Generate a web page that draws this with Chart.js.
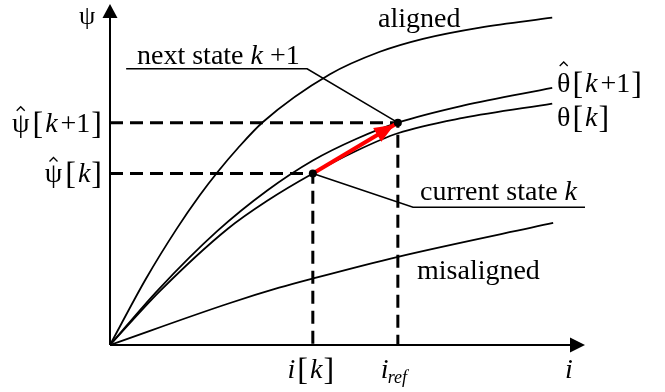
<!DOCTYPE html>
<html>
<head>
<meta charset="utf-8">
<script src="https://cdn.jsdelivr.net/npm/chart.js@4/dist/chart.umd.min.js"></script>
<style>
    html, body { margin: 0; padding: 0; background: #ffffff; }
    canvas { display: block; }
</style>
</head>
<body>
<canvas id="chart" width="665" height="392"></canvas>
<script>
(function (window, document) {
    'use strict';

    // curves, i and psi both on a 0..100 scale
    var alignedI = [0, 7.6, 14.1, 18.9, 22.7, 26.9, 32.2, 46.3, 56.8, 65.9, 77.9, 93.1];
    var alignedPsi = [0, 19.5, 34.2, 43.9, 50.8, 57.7, 65.4, 79.4, 86.0, 89.8, 93.1, 96.0];

    var thetaNextI = [0, 10.1, 22.5, 33.1, 42.7, 51.8, 60.6, 74.3, 93.1];
    var thetaNextPsi = [0, 16.1, 33.3, 45.3, 54.1, 60.4, 65.2, 70.2, 75.4];

    var thetaI = [0, 10.5, 24.8, 33.1, 42.7, 51.8, 60.6, 74.3, 93.1];
    var thetaPsi = [0, 15.8, 34.1, 42.3, 50.3, 56.9, 62.1, 66.6, 70.8];

    var misalignedI = [0, 24.8, 35.6, 42.7, 60.4, 93.3];
    var misalignedPsi = [0, 12.1, 16.8, 19.5, 25.8, 35.8];

    // current state k and next state k+1
    var stateI = [42.7, 60.6];
    var statePsi = [50.3, 65.2];

    // callout lines for the two state captions
    var nextCalloutI = [3.4, 41.5];
    var nextCalloutPsi = 81.0;
    var currentCalloutI = [63.8, 100];
    var currentCalloutPsi = 40.4;

    var axisMax = 100;
    var ARROW_INDEX = 1;

    var SERIF = "'Liberation Serif', 'Times New Roman', serif";
    var UP = '28px ' + SERIF;
    var IT = 'italic 28px ' + SERIF;
    var BR = '32px ' + SERIF;

    function pairs(xs, ys) {
        return xs.map(function (x, index) {
            return { x: x, y: ys[index] };
        });
    }

    function curve(xs, ys) {
        return {
            data: pairs(xs, ys),
            showLine: true,
            borderColor: '#000000',
            borderWidth: 1.8,
            pointRadius: 0,
            cubicInterpolationMode: 'monotone',
            clip: false
        };
    }

    function polyline(points, width, color, dash) {
        return {
            data: points,
            showLine: true,
            borderColor: color,
            borderWidth: width,
            borderDash: dash || [],
            pointRadius: 0,
            tension: 0,
            clip: false
        };
    }

    var current = { x: stateI[0], y: statePsi[0] };
    var next = { x: stateI[1], y: statePsi[1] };

    var datasets = [
        {
            data: pairs(stateI, statePsi),
            showLine: false,
            pointRadius: 4,
            pointBackgroundColor: '#000000',
            pointBorderWidth: 0,
            clip: false
        },
        polyline([current, next], 4, '#ff0000'),
        polyline([{ x: 0, y: next.y }, next, { x: next.x, y: 0 }], 3, '#000000', [13, 7]),
        polyline([{ x: 0, y: current.y }, current, { x: current.x, y: 0 }], 3, '#000000', [13, 7]),
        polyline([
            { x: nextCalloutI[0], y: nextCalloutPsi },
            { x: nextCalloutI[1], y: nextCalloutPsi },
            next
        ], 1.6, '#000000'),
        polyline([
            current,
            { x: currentCalloutI[0], y: currentCalloutPsi },
            { x: currentCalloutI[1], y: currentCalloutPsi }
        ], 1.6, '#000000'),
        curve(alignedI, alignedPsi),
        curve(thetaNextI, thetaNextPsi),
        curve(thetaI, thetaPsi),
        curve(misalignedI, misalignedPsi)
    ];

    function arrowHead(ctx, fromX, fromY, toX, toY, length, half, color) {
        var angle = Math.atan2(toY - fromY, toX - fromX);
        ctx.save();
        ctx.translate(toX, toY);
        ctx.rotate(angle);
        ctx.fillStyle = color;
        ctx.beginPath();
        ctx.moveTo(0, 0);
        ctx.lineTo(-length, -half);
        ctx.lineTo(-length, half);
        ctx.closePath();
        ctx.fill();
        ctx.restore();
    }

    function drawRuns(ctx, x, y, parts) {
        parts.forEach(function (part) {
            ctx.font = part.f;
            ctx.fillText(part.t, x, y + (part.dy || 0));
            if (part.hat) {
                var w = ctx.measureText(part.t).width;
                var cx = x + w / 2;
                var hy = y - part.hat;
                ctx.save();
                ctx.lineWidth = 1.3;
                ctx.beginPath();
                ctx.moveTo(cx - 4, hy + 4);
                ctx.lineTo(cx, hy);
                ctx.lineTo(cx + 4, hy + 4);
                ctx.stroke();
                ctx.restore();
            }
            x += ctx.measureText(part.t).width + (part.gap || 0);
        });
        return x;
    }

    function runsWidth(ctx, parts) {
        return parts.reduce(function (sum, part) {
            ctx.font = part.f;
            return sum + ctx.measureText(part.t).width + (part.gap || 0);
        }, 0);
    }

    var overlay = {
        id: 'overlay',
        beforeDatasetsDraw: function (chart) {
            var ctx = chart.ctx;
            var sx = chart.scales.x;
            var sy = chart.scales.y;
            var ox = sx.getPixelForValue(0);
            var oy = sy.getPixelForValue(0);
            var ex = sx.getPixelForValue(axisMax);
            var ey = sy.getPixelForValue(axisMax);

            ctx.save();
            ctx.strokeStyle = '#000000';
            ctx.lineWidth = 2;
            ctx.beginPath();
            ctx.moveTo(ox, oy);
            ctx.lineTo(ex - 8, oy);
            ctx.moveTo(ox, oy);
            ctx.lineTo(ox, ey + 8);
            ctx.stroke();
            ctx.restore();

            arrowHead(ctx, ox, oy, ex, oy, 15, 7.5, '#000000');
            arrowHead(ctx, ox, oy, ox, ey, 14, 7.5, '#000000');
        },
        afterDatasetDraw: function (chart, args) {
            if (args.index !== ARROW_INDEX) {
                return;
            }
            var sx = chart.scales.x;
            var sy = chart.scales.y;
            var x0 = sx.getPixelForValue(current.x);
            var y0 = sy.getPixelForValue(current.y);
            var x1 = sx.getPixelForValue(next.x);
            var y1 = sy.getPixelForValue(next.y);
            var len = Math.hypot(x1 - x0, y1 - y0);
            var tipX = x1 - (x1 - x0) / len * 4;
            var tipY = y1 - (y1 - y0) / len * 4;
            arrowHead(chart.ctx, x0, y0, tipX, tipY, 20, 8, '#ff0000');
        },
        afterDraw: function (chart) {
            var ctx = chart.ctx;
            var sx = chart.scales.x;
            var sy = chart.scales.y;
            var ox = sx.getPixelForValue(0);
            var xk = sx.getPixelForValue(current.x);
            var xr = sx.getPixelForValue(next.x);
            var yk = sy.getPixelForValue(current.y);
            var yr = sy.getPixelForValue(next.y);

            ctx.save();
            ctx.fillStyle = '#000000';
            ctx.strokeStyle = '#000000';
            ctx.textBaseline = 'alphabetic';
            ctx.textAlign = 'left';

            // axis names
            ctx.font = '26px ' + SERIF;
            ctx.fillText('\u03c8', ox - 31, 24);
            ctx.font = IT;
            ctx.fillText('i', 565, 378);

            // curve names
            ctx.font = UP;
            ctx.fillText('aligned', 378, 27);
            ctx.fillText('misaligned', 417, 279);

            drawRuns(ctx, 137, 64, [
                { t: 'next state ', f: UP },
                { t: 'k', f: IT },
                { t: ' +1', f: UP }
            ]);
            drawRuns(ctx, 420, 200, [
                { t: 'current state ', f: UP },
                { t: 'k', f: IT }
            ]);

            drawRuns(ctx, 557, 92, [
                { t: '\u03b8', f: UP, hat: 30, gap: 2 },
                { t: '[', f: BR, dy: 2, gap: 2 },
                { t: 'k', f: IT, gap: 3 },
                { t: '+1', f: UP, gap: 1 },
                { t: ']', f: BR, dy: 2 }
            ]);
            drawRuns(ctx, 557, 126, [
                { t: '\u03b8', f: UP, gap: 2 },
                { t: '[', f: BR, dy: 2, gap: 2 },
                { t: 'k', f: IT, gap: 1 },
                { t: ']', f: BR, dy: 2 }
            ]);

            // psi tick labels, right aligned against the axis
            var psiNext = [
                { t: '\u03c8', f: UP, hat: 25, gap: 3 },
                { t: '[', f: BR, dy: 2, gap: 2 },
                { t: 'k', f: IT, gap: 3 },
                { t: '+1', f: UP, gap: 1 },
                { t: ']', f: BR, dy: 2 }
            ];
            drawRuns(ctx, ox - 8 - runsWidth(ctx, psiNext), yr + 9, psiNext);

            var psiNow = [
                { t: '\u03c8', f: UP, hat: 25, gap: 3 },
                { t: '[', f: BR, dy: 2, gap: 2 },
                { t: 'k', f: IT, gap: 1 },
                { t: ']', f: BR, dy: 2 }
            ];
            drawRuns(ctx, ox - 8 - runsWidth(ctx, psiNow), yk + 9, psiNow);

            // i tick labels
            var iNow = [
                { t: 'i', f: IT, gap: 2 },
                { t: '[', f: BR, dy: 2, gap: 2 },
                { t: 'k', f: IT, gap: 1 },
                { t: ']', f: BR, dy: 2 }
            ];
            drawRuns(ctx, xk - runsWidth(ctx, iNow) / 2 - 2, 378, iNow);

            drawRuns(ctx, xr - 17, 378, [
                { t: 'i', f: IT, gap: -1 },
                { t: 'ref', f: 'italic 18px ' + SERIF, dy: 5 }
            ]);

            ctx.restore();
        }
    };

    new Chart(document.getElementById('chart'), {
        type: 'scatter',
        data: { datasets: datasets },
        options: {
            responsive: false,
            animation: false,
            events: [],
            layout: {
                padding: { left: 110, right: 80, top: 3, bottom: 47 }
            },
            plugins: {
                legend: { display: false },
                tooltip: { enabled: false }
            },
            scales: {
                x: { type: 'linear', min: 0, max: axisMax, display: false },
                y: { type: 'linear', min: 0, max: axisMax, display: false }
            }
        },
        plugins: [overlay]
    });
})(window, document);
</script>
</body>
</html>
